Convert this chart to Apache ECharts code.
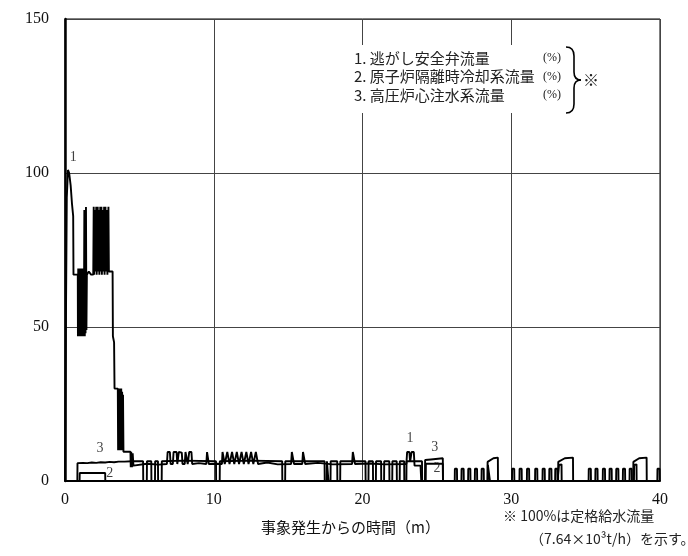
<!DOCTYPE html>
<html>
<head>
<meta charset="utf-8">
<script src="https://cdn.jsdelivr.net/npm/echarts@6/dist/echarts.min.js"></script>
<style>
html,body{margin:0;padding:0;background:#fff;}
#chart{width:688px;height:556px;}
</style>
</head>
<body>
<div id="chart"></div>
<script>
// ---- axis ticks ----
const xTicks = [0, 10, 20, 30, 40];
const yTicks = [0, 50, 100, 150];

// ---- series 1: 逃がし安全弁流量 [time (min), %] ----
const srvFlow = [
[0,0],[0.06,50],[0.12,92],[0.2,101],[0.28,100],[0.38,96],[0.47,90],[0.55,86],[0.57,67],[0.86,67],
[0.87,47],[0.89,69],[0.91,47],[0.93,69],[0.95,47],[0.97,69],[0.99,47],[1.01,69],[1.03,47],[1.05,69],
[1.07,47],[1.09,69],[1.11,47],[1.13,69],[1.15,47],[1.17,69],[1.19,47],[1.21,69],[1.23,47],[1.25,69],
[1.27,47],[1.3,88],[1.33,47],[1.36,69],[1.38,48],[1.41,89],[1.44,49],[1.47,67],
[1.6,68],[1.75,67],[1.9,67],
[1.93,89],[1.96,67],[2.02,88],[2.05,68],[2.1,89],[2.13,67],[2.2,89],[2.23,68],[2.28,88],[2.31,67],
[2.37,89],[2.4,68],[2.45,89],[2.48,67],[2.55,88],[2.58,68],[2.63,89],[2.66,67],[2.72,89],[2.75,68],
[2.82,88],[2.85,67],[2.92,89],[2.95,68],
[3.2,68],[3.22,47],[3.3,45],[3.33,30],[3.55,30],
[3.57,10],[3.6,30],[3.63,10],[3.66,30],[3.69,10],[3.72,30],[3.75,10],[3.78,30],[3.81,10],[3.84,29],
[3.87,10],[3.9,28],[3.93,9.5],
[4.4,9.5],[4.42,4.5],[4.45,9.5],[4.5,4.5],[4.55,9],[4.6,5],[4.7,5.5],
[5.5,5.6],[6.3,5.3],[6.85,5.5],[6.9,9.4],[7.05,9.4],[7.1,5.5],[7.25,5.5],[7.3,9.4],[7.5,9.4],[7.55,5.5],
[7.6,5.5],[7.65,9.4],[7.85,9.2],[7.9,5.5],[8.05,5.5],[8.1,9.4],[8.2,9.4],[8.25,5.5],[8.3,5.5],[8.35,9.4],
[8.5,9.4],[8.55,5.5],
[9.0,5.8],[9.5,5.5],[9.55,9.4],[9.62,9.4],[9.67,5.5],[10.2,5.6],
[10.55,5.5],[10.59,9.4],[10.7,9.4],[10.74,5.5],
[10.87,5.5],[10.91,9.4],[11.02,9.4],[11.06,5.5],
[11.19,5.5],[11.23,9.4],[11.34,9.4],[11.38,5.5],
[11.51,5.5],[11.55,9.4],[11.66,9.4],[11.7,5.5],
[11.83,5.5],[11.87,9.4],[11.98,9.4],[12.02,5.5],
[12.15,5.5],[12.19,9.4],[12.3,9.4],[12.34,5.5],
[12.47,5.5],[12.51,9.4],[12.62,9.4],[12.66,5.5],
[12.79,5.5],[12.83,9.4],[12.94,9.4],[12.98,5.5],
[13.6,6.0],[14.3,5.4],[15.2,5.5],[15.25,9.4],[15.35,9.4],[15.4,5.5],[15.95,5.5],[16.0,9.4],[16.1,9.4],
[16.15,5.5],[17.0,5.9],[18.0,5.4],[19.3,5.5],[19.35,9.4],[19.45,9.4],[19.5,5.5],[20.5,5.7],[21.5,5.4],
[22.95,5.5],[23.0,9.4],[23.15,9.4],[23.2,6.2],[23.3,9.4],[23.45,9.4],[23.5,5],[23.9,5],[23.95,0],
[26.2,0],[26.21,4],[26.28,4.6],[26.35,4],[26.36,0],
[26.65,0],[26.66,4],[26.73,4.6],[26.8,4],[26.81,0],
[27.1,0],[27.11,4],[27.18,4.6],[27.25,4],[27.26,0],
[27.55,0],[27.56,4],[27.63,4.6],[27.7,4],[27.71,0],
[28.0,0],[28.01,4],[28.08,4.6],[28.15,4],[28.16,0],
[28.42,0],[28.43,5.2],[28.56,5.4],[28.57,0],
[30.05,0],[30.06,4],[30.13,4.6],[30.2,4],[30.21,0],
[30.55,0],[30.56,4],[30.63,4.6],[30.7,4],[30.71,0],
[31.05,0],[31.06,4],[31.13,4.6],[31.2,4],[31.21,0],
[31.6,0],[31.61,4],[31.68,4.6],[31.75,4],[31.76,0],
[32.1,0],[32.11,4],[32.18,4.6],[32.25,4],[32.26,0],
[32.55,0],[32.56,4],[32.63,4.6],[32.7,4],[32.71,0],
[32.95,0],[32.96,4],[33.03,4.6],[33.1,4],[33.11,0],
[33.2,0],[33.21,5.2],[33.38,5.4],[33.39,0],
[35.2,0],[35.21,4],[35.28,4.6],[35.35,4],[35.36,0],
[35.65,0],[35.66,4],[35.73,4.6],[35.8,4],[35.81,0],
[36.15,0],[36.16,4],[36.23,4.6],[36.3,4],[36.31,0],
[36.6,0],[36.61,4],[36.68,4.6],[36.75,4],[36.76,0],
[37.05,0],[37.06,4],[37.13,4.6],[37.2,4],[37.21,0],
[37.5,0],[37.51,4],[37.58,4.6],[37.65,4],[37.66,0],
[37.95,0],[37.96,4],[38.03,4.6],[38.1,4],[38.11,0],
[38.25,0],[38.26,5.2],[38.42,5.4],[38.43,0],
[39.82,0],[39.83,4],[39.9,4.6],[39.97,4],[39.98,0],[40,0]
];

// ---- series 2: 原子炉隔離時冷却系流量 ----
const rcicFlow = [
[0,0],[0.98,0],[0.99,2.6],[2.7,2.6],[2.71,0],[24.25,0],[24.26,5.6],[25.4,5.6],[25.41,0],[40,0]
];

// ---- series 3: 高圧炉心注水系流量 ----
const hpcfFlow = [
[0,0],[0.83,0],[0.84,5.8],[1.2,5.9],[1.5,5.8],[1.8,6.0],[2.1,5.9],[2.4,6.1],[2.7,6.0],[3.0,6.2],
[3.3,6.1],[3.6,6.3],[4.0,6.3],[4.5,6.4],
[5.25,6.4],[5.26,0],[5.5,0],[5.51,6.4],[5.8,6.4],[5.81,0],[6.05,0],[6.06,6.4],[6.25,6.4],[6.26,0],[6.5,0],[6.51,6.4],
[8.0,6.6],[10.15,6.4],[10.16,0],[10.4,0],[10.41,6.4],[12.5,6.6],[14.6,6.4],[14.61,0],[14.8,0],[14.81,6.4],
[17.45,6.4],[17.46,0],[17.6,0],[17.61,6.4],[17.7,6.4],[17.71,0],[17.85,0],[17.86,6.4],[18.3,6.4],[18.31,0],
[18.5,0],[18.51,6.4],
[20.2,6.4],[20.21,0],[20.4,0],[20.41,6.4],[20.7,6.4],[20.71,0],[20.9,0],[20.91,6.4],[21.25,6.4],[21.26,0],
[21.45,0],[21.46,6.4],[21.8,6.4],[21.81,0],[22.0,0],[22.01,6.4],[22.3,6.4],[22.31,0],[22.5,0],[22.51,6.4],
[22.8,6.4],[22.81,0],[22.95,0],[22.96,6.4],
[24.0,6.4],[24.01,0],[24.2,0],[24.21,6.8],[24.6,7.0],[25.4,7.4],[25.41,0],
[28.4,0],[28.41,6.2],[28.8,7.4],[29.1,7.6],[29.11,0],
[33.15,0],[33.16,6.2],[33.6,7.4],[34.15,7.6],[34.16,0],
[38.2,0],[38.21,6.2],[38.6,7.4],[39.1,7.6],[39.11,0],[40,0]
];

// ---- curve number annotations ----
const annotTimes  = [0.55, 2.35, 3.0, 23.2, 24.85, 25.0];
const annotValues = [105, 10.5, 2.6, 14, 11, 4.2];
const annotTexts  = ['1', '3', '2', '1', '3', '2'];

// ---- legend / notes text ----
const legendNames = ['1. 逃がし安全弁流量', '2. 原子炉隔離時冷却系流量', '3. 高圧炉心注水系流量'];
const legendUnit = '(%)';
const xAxisName = '事象発生からの時間（m）';
const noteLines = ['※ 100%は定格給水流量', '（7.64×10³t/h）を示す。'];

const serif = '"Liberation Serif","DejaVu Serif",serif';
const cjk = '"Noto Sans CJK JP","Noto Sans",sans-serif';

const chart = echarts.init(document.getElementById('chart'), null, {renderer: 'canvas'});

const lineStyleBase = {color: '#000', width: 1.9};
function lineSeries(name, data) {
  return {
    name: name, type: 'line', data: data, showSymbol: false, symbol: 'none',
    lineStyle: lineStyleBase, itemStyle: {color: '#000'}, animation: false, z: 5
  };
}

const graphics = [
  {type: 'rect', shape: {x: 349, y: 45, width: 216, height: 68}, style: {fill: '#fff'}, z: 100}
];
legendNames.forEach(function (n, i) {
  graphics.push({type: 'text', x: 354, y: 58 + i * 18.5, z: 101,
    style: {text: n, fontFamily: cjk, fontSize: 15, fill: '#222', verticalAlign: 'middle', align: 'left'}});
  graphics.push({type: 'text', x: 543, y: 58 + i * 18.5, z: 101,
    style: {text: legendUnit, fontFamily: serif, fontSize: 12, fill: '#222', verticalAlign: 'middle', align: 'left'}});
});
// brace built from curve and line pieces
const braceStyle = {fill: 'none', stroke: '#000', lineWidth: 1.6};
graphics.push({type: 'bezierCurve', z: 101, shape: {x1: 566, y1: 47, x2: 574, y2: 56, cpx1: 574, cpy1: 47}, style: braceStyle});
graphics.push({type: 'line', z: 101, shape: {x1: 574, y1: 56, x2: 574, y2: 72}, style: braceStyle});
graphics.push({type: 'bezierCurve', z: 101, shape: {x1: 574, y1: 72, x2: 581, y2: 80, cpx1: 574, cpy1: 80}, style: braceStyle});
graphics.push({type: 'bezierCurve', z: 101, shape: {x1: 581, y1: 80, x2: 574, y2: 88, cpx1: 574, cpy1: 80}, style: braceStyle});
graphics.push({type: 'line', z: 101, shape: {x1: 574, y1: 88, x2: 574, y2: 104}, style: braceStyle});
graphics.push({type: 'bezierCurve', z: 101, shape: {x1: 574, y1: 104, x2: 566, y2: 113, cpx1: 574, cpy1: 113}, style: braceStyle});
graphics.push({type: 'text', x: 583, y: 80, z: 101,
  style: {text: '※', fontFamily: cjk, fontSize: 16, fill: '#222', verticalAlign: 'middle', align: 'left'}});
graphics.push({type: 'text', x: 503, y: 516, z: 101,
  style: {text: noteLines[0], fontFamily: cjk, fontSize: 14, fill: '#222', verticalAlign: 'middle', align: 'left'}});
graphics.push({type: 'text', x: 530, y: 539, z: 101,
  style: {text: noteLines[1], fontFamily: cjk, fontSize: 14, fill: '#222', verticalAlign: 'middle', align: 'left'}});

const option = {
  animation: false,
  backgroundColor: '#fff',
  grid: {left: 65, right: 28, top: 19, bottom: 75, show: true, borderColor: '#000', borderWidth: 1, containLabel: false},
  xAxis: {
    type: 'value', min: xTicks[0], max: xTicks[xTicks.length - 1], interval: xTicks[1] - xTicks[0],
    axisLine: {show: true, onZero: false, lineStyle: {color: '#000', width: 2}},
    axisTick: {show: false},
    splitLine: {show: true, lineStyle: {color: '#444', width: 1}},
    axisLabel: {fontFamily: serif, fontSize: 16, color: '#111', margin: 11},
    name: xAxisName, nameLocation: 'middle', nameGap: 39,
    nameTextStyle: {fontFamily: cjk, fontSize: 15, color: '#111', padding: [0, 24, 0, 0]}
  },
  yAxis: {
    type: 'value', min: yTicks[0], max: yTicks[yTicks.length - 1], interval: yTicks[1] - yTicks[0],
    axisLine: {show: true, onZero: false, lineStyle: {color: '#000', width: 2.5}},
    axisTick: {show: false},
    splitLine: {show: true, lineStyle: {color: '#444', width: 1}},
    axisLabel: {fontFamily: serif, fontSize: 16, color: '#111', margin: 16}
  },
  series: [
    lineSeries('1', srvFlow),
    lineSeries('2', rcicFlow),
    lineSeries('3', hpcfFlow),
    {
      type: 'scatter', symbolSize: 1, itemStyle: {color: 'rgba(0,0,0,0)'}, z: 6,
      data: annotTimes.map(function (t, i) { return [t, annotValues[i], annotTexts[i]]; }),
      label: {show: true, position: 'inside', formatter: function (p) { return p.value[2]; },
        fontFamily: serif, fontSize: 14, color: '#111'}
    }
  ],
  graphic: graphics
};
chart.setOption(option);
</script>
</body>
</html>
